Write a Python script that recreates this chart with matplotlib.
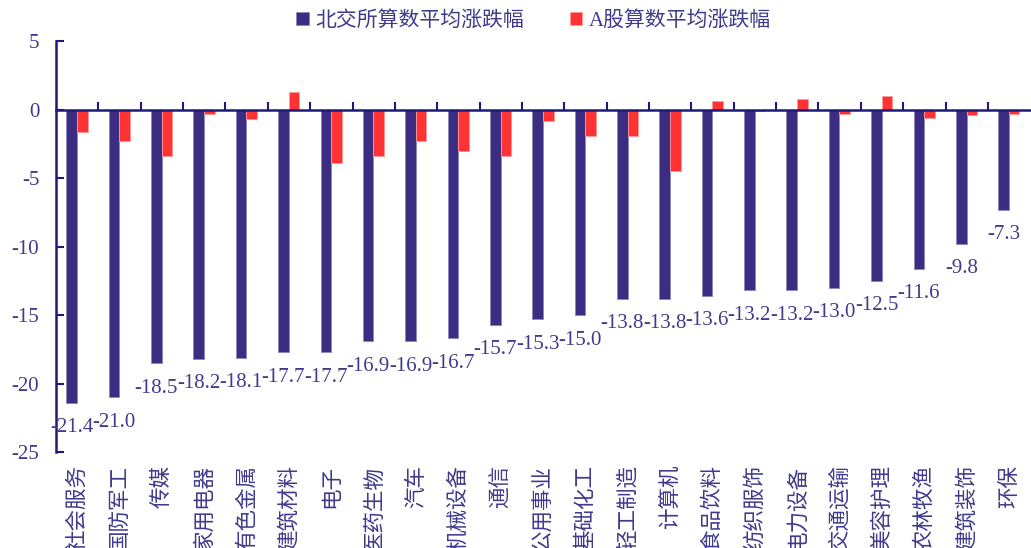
import numpy as np
import matplotlib
matplotlib.use('Agg')
import matplotlib.pyplot as plt

# data
categories = ['社会服务', '国防军工', '传媒', '家用电器', '有色金属', '建筑材料', '电子',
              '医药生物', '汽车', '机械设备', '通信', '公用事业', '基础化工', '轻工制造',
              '计算机', '食品饮料', '纺织服饰', '电力设备', '交通运输', '美容护理',
              '农林牧渔', '建筑装饰', '环保']
bse_avg = [-21.4, -21.0, -18.5, -18.2, -18.1, -17.7, -17.7, -16.9, -16.9, -16.7, -15.7,
           -15.3, -15.0, -13.8, -13.8, -13.6, -13.2, -13.2, -13.0, -12.5, -11.6, -9.8, -7.3]
a_avg = [-1.6, -2.3, -3.4, -0.3, -0.7, 1.3, -3.9, -3.4, -2.3, -3.0, -3.4,
         -0.8, -1.9, -1.9, -4.5, 0.6, -0.1, 0.8, -0.3, 1.0, -0.6, -0.4, -0.3]
series_names = ['北交所算数平均涨跌幅', 'A股算数平均涨跌幅']
yticks = [5, 0, -5, -10, -15, -20, -25]

blue = '#3C2D82'
red = '#FF3333'
axis_col = '#1E1A78'
text_col = '#3F3A8C'
fam = ['Liberation Serif', 'Noto Sans CJK SC']
plt.rcParams['font.family'] = fam

fig = plt.figure(figsize=(10.31, 5.48), dpi=100)
ax = fig.add_axes([0.0543, 0.175, 0.945, 0.75])

x = np.arange(len(categories))
w = 0.25
ax.bar(x - 0.13, bse_avg, w, color=blue, edgecolor='#8C86C0', linewidth=0.6,
       label=series_names[0], zorder=2)
ax.bar(x + 0.12, a_avg, w, color=red, edgecolor='#FF9A9A', linewidth=0.6,
       label=series_names[1], zorder=2)

for xi, v in zip(x, bse_avg):
    ax.annotate(f'{v:.1f}', xy=(xi - 0.13, v), xytext=(0, -18), textcoords='offset points',
                ha='center', va='center', fontsize=15, color=text_col, family=fam)

ax.set_xlim(-0.5, len(categories) - 0.5)
ax.set_ylim(-25, 5)
ax.set_yticks(yticks)
ax.set_yticklabels([str(t) for t in yticks], fontsize=15, color=text_col)
ax.tick_params(axis='y', direction='in', length=6, width=1.5, color=axis_col, pad=12)

# x axis line at zero, ticks between categories
ax.spines['bottom'].set_position(('data', 0))
ax.spines['bottom'].set_color(axis_col)
ax.spines['bottom'].set_linewidth(1.8)
ax.spines['left'].set_color(axis_col)
ax.spines['left'].set_linewidth(1.8)
ax.spines['top'].set_visible(False)
ax.spines['right'].set_visible(False)
ax.set_xticks(np.arange(0.5, len(categories) - 0.5, 1))
ax.set_xticklabels([])
ax.tick_params(axis='x', direction='in', length=6, width=1.5, color=axis_col)

for xi, c in zip(x, categories):
    ax.annotate(c, xy=(xi, 0), xycoords=('data', 'axes fraction'), xytext=(0, -9),
                textcoords='offset points', rotation=90, ha='center', va='top',
                fontsize=15.5, color=text_col, family=['Noto Sans CJK SC'])

ax.legend(loc='lower center', bbox_to_anchor=(0.49, 1.005), ncol=2, frameon=False,
          fontsize=15, labelcolor=text_col, handlelength=0.6, handleheight=0.6,
          handletextpad=0.3, columnspacing=2.2, borderaxespad=0)

fig.savefig('out.png', dpi=100)
